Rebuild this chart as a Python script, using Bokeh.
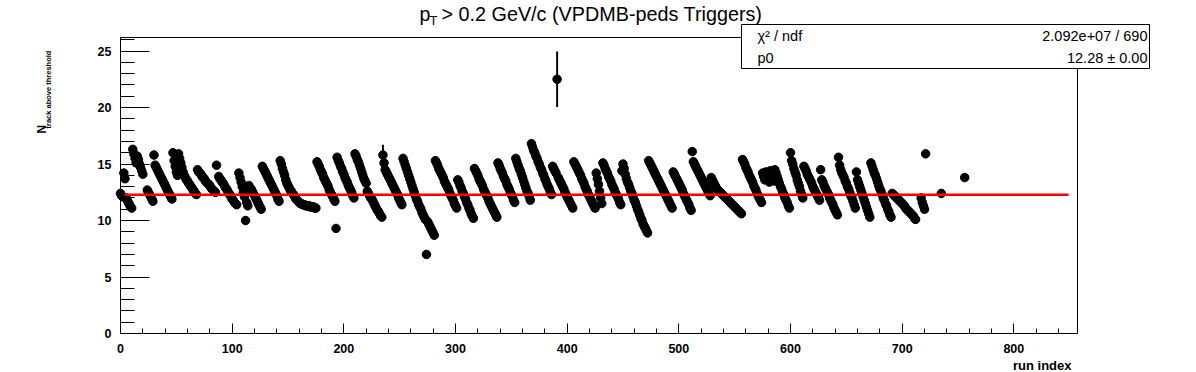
import math
from bokeh.plotting import figure
from bokeh.models import Range1d, FixedTicker, Label, BoxAnnotation, ColumnDataSource
from bokeh.embed import file_html
from bokeh.resources import INLINE

# ---------------- data ----------------
n_track_0 = [12.4, 12.2, 12.1, 14.2, 13.7, 12.0, 11.8, 11.6, 11.4, 11.2, 11.1,
             16.3, 15.9, 15.5, 15.1, 15.7, 15.4, 15.0, 14.7, 14.4, 14.1]
n_track_24 = [12.7, 12.5, 12.3, 12.1, 11.9, 11.7, 15.8,
              14.9, 14.7, 14.5, 14.3, 14.1, 13.9, 13.7, 13.5, 13.3, 13.1, 12.9, 12.7, 12.5, 12.3, 12.1, 11.9,
              16.0, 15.3, 14.8, 14.3, 14.0, 15.9, 15.5, 15.1, 14.7, 14.3, 14.0,
              13.8, 13.6, 13.5, 13.3, 13.2, 13.0, 12.9, 12.7, 12.6, 12.4, 12.3,
              14.5, 14.3, 14.2, 14.1, 13.9, 13.8, 13.7, 13.5, 13.4, 13.3, 13.2, 13.1, 12.9, 12.8, 12.7, 12.6, 12.5,
              14.9]
n_track_88 = [13.9, 13.7, 13.6, 13.4, 13.3, 13.1, 12.9, 12.8, 12.6, 12.4, 12.3, 12.1, 11.9, 11.8, 11.6, 11.5, 11.4]
n_track_106 = [14.2, 13.8, 13.4, 13.0, 12.5, 12.1, 10.0, 11.6, 11.3,
               13.1, 12.9, 12.8, 12.6, 12.4, 12.2, 12.0, 11.8, 11.6, 11.4, 11.2, 11.0,
               14.8, 14.6, 14.4, 14.2, 14.0, 13.8, 13.6, 13.4, 13.2, 13.0, 12.8, 12.6, 12.4, 12.2, 11.9, 11.7,
               15.3, 15.0, 14.6, 14.3, 14.0, 13.6, 13.3, 13.1, 12.9, 12.7, 12.6, 12.4, 12.3, 12.1, 11.9,
               11.8, 11.7, 11.6, 11.5, 11.5, 11.4, 11.4, 11.4, 11.3, 11.3, 11.3, 11.3, 11.2, 11.2, 11.2,
               11.2, 11.1, 11.1,
               15.2, 15.0, 14.8, 14.5, 14.3, 14.1, 13.8, 13.6, 13.4, 13.2, 13.0, 12.7, 12.5, 12.3, 12.1, 11.9, 11.7,
               9.3,
               15.6, 15.3, 15.1, 14.8, 14.6, 14.3]
n_track_200 = [14.1, 13.8, 13.6, 13.4, 13.1, 12.9, 12.7, 12.5, 12.2, 12.0,
               15.9, 15.7, 15.4, 15.2, 14.9, 14.6, 14.3, 14.0, 13.7, 13.5, 13.3,
               12.6, 12.4, 12.2, 12.0, 11.9, 11.7, 11.5, 11.3, 11.1, 10.9, 10.8, 10.6, 10.4, 10.3,
               15.8, 15.1,
               14.5, 14.3, 14.1, 13.9, 13.7, 13.5, 13.3, 13.1, 12.9, 12.7, 12.5, 12.3, 12.0, 11.8, 11.6, 11.4,
               15.5, 15.2, 14.9, 14.6, 14.3, 14.0, 13.7, 13.4, 13.1, 12.8, 12.5, 12.2, 11.9, 11.7, 11.4, 11.2,
               11.0, 10.7, 10.5, 10.3, 10.1, 7.0, 9.9, 9.7, 9.5, 9.3, 9.1, 8.9, 8.7,
               15.3, 15.1, 14.9, 14.6, 14.4, 14.2, 14.0, 13.8, 13.5, 13.3, 13.1, 12.9, 12.7, 12.4, 12.2, 12.0,
               11.8, 11.5]
n_track_300 = [11.3, 11.1,
               13.6, 13.4, 13.1, 12.9, 12.6, 12.4, 12.1, 11.9, 11.6, 11.4, 11.1, 10.9, 10.6, 10.4, 10.2,
               14.6, 14.4, 14.2, 14.0, 13.7, 13.5, 13.3, 13.1, 12.8, 12.6, 12.4, 12.2, 12.0, 11.7, 11.5, 11.3,
               11.1, 10.9, 10.7, 10.5, 10.3,
               15.1, 14.9, 14.6, 14.4, 14.2, 13.9, 13.7, 13.5, 13.2, 13.0, 12.8, 12.5, 12.3, 12.1, 11.8, 11.6,
               15.5, 15.2, 14.9, 14.6, 14.4, 14.1, 13.8, 13.5, 13.2, 12.9, 12.6, 12.4, 12.1, 11.8,
               16.8, 16.5, 16.2, 16.0, 15.7, 15.5, 15.2, 15.0, 14.7, 14.5, 14.2, 14.0, 13.7, 13.5, 13.2, 13.0,
               12.8, 12.5, 12.3,
               14.8, 14.6, 14.4, 14.2, 22.5, 13.8, 13.6, 13.4, 13.2, 13.0, 12.8, 12.5, 12.3]
n_track_400 = [12.1, 11.9, 11.7, 11.5, 11.3, 11.1,
               15.2, 15.0, 14.8, 14.6, 14.4, 14.2, 14.0, 13.7, 13.5, 13.3, 13.0, 12.8, 12.6, 12.3, 12.1, 11.9,
               11.7, 11.5, 11.3, 11.1,
               14.2, 13.7, 13.2, 12.6, 12.0, 11.5,
               15.1, 14.9, 14.6, 14.4, 14.2, 13.9, 13.7, 13.5, 13.2, 13.0, 12.8, 12.5, 12.3, 12.1, 11.9, 11.6, 11.4,
               14.4, 15.0, 14.6, 14.1, 13.7, 13.4,
               13.2, 12.9, 12.6, 12.4, 12.1, 11.8, 11.6, 11.3, 11.0, 10.8, 10.5, 10.2, 10.0, 9.7, 9.5, 9.3, 9.1, 8.9,
               15.3, 15.1, 14.9, 14.7, 14.5, 14.3, 14.1, 13.9, 13.7, 13.5, 13.3, 13.1, 12.9, 12.7, 12.5, 12.3,
               12.1, 11.9, 11.7, 11.5, 11.3, 11.1,
               14.3, 14.1, 13.9, 13.7, 13.5]
n_track_500 = [13.3, 13.1, 12.9, 12.7, 12.4, 12.2, 12.0, 11.8, 11.6, 11.4, 11.1, 10.9,
               16.1,
               15.2, 15.0, 14.8, 14.6, 14.4, 14.2, 14.0, 13.8, 13.6, 13.4, 13.2, 13.0, 12.8, 12.6, 12.4, 12.2,
               13.8, 13.6, 13.4, 13.2, 13.0, 12.8, 12.7, 12.6, 12.5, 12.4, 12.3, 12.2, 12.1, 12.0, 11.9, 11.8,
               11.7, 11.6, 11.5, 11.4, 11.3, 11.2, 11.1, 11.0, 10.9, 10.8, 10.7, 10.6,
               15.4, 15.2, 15.0, 14.7, 14.5, 14.3, 14.0, 13.8, 13.6, 13.4, 13.1, 12.9, 12.7, 12.4, 12.2, 12.0,
               11.8, 11.6,
               14.2, 13.9, 13.6, 14.3, 14.0, 13.7, 13.4, 14.4, 14.1, 13.8, 13.5, 14.5, 14.2, 13.9, 13.6,
               13.3, 13.0, 12.8, 12.5, 12.3, 12.0, 11.8, 11.6, 11.3, 11.1]
n_track_600 = [16.0,
               15.3, 15.0, 14.6, 14.3, 14.0, 13.6, 13.3, 13.0, 12.6, 12.3, 12.0,
               14.8, 14.6, 14.4, 14.1, 13.9, 13.7, 13.5, 13.3, 13.0, 12.8, 12.6, 12.4, 12.2, 12.0, 11.8,
               14.5,
               13.6, 13.4, 13.1, 12.9, 12.7, 12.5, 12.3, 12.0, 11.8, 11.6, 11.4, 11.1, 10.9, 10.7, 10.5,
               15.6, 14.9, 14.5, 14.2, 14.0, 13.8, 13.5, 13.3, 13.0, 12.8, 12.5, 12.2, 12.0, 11.7, 11.4, 11.1,
               14.3, 13.6, 13.3, 13.0, 12.7, 12.4, 12.1, 11.8, 11.5, 11.2, 10.9, 10.6, 10.3,
               15.1, 14.8, 14.5, 14.2, 14.0, 13.7, 13.4, 13.1, 12.8, 12.6, 12.3, 12.0, 11.8, 11.5, 11.3, 11.0,
               10.8, 10.5, 10.3,
               12.4, 12.3, 12.2, 12.1, 12.0, 11.9, 11.8, 11.7, 11.6, 11.5, 11.4, 11.3, 11.1, 11.0, 10.9, 10.8,
               10.7, 10.6, 10.5, 10.4, 10.2, 10.1]
n_track_717 = [12.0, 11.6, 11.3, 11.0, 15.9]
n_track_735 = [12.4]
n_track_756 = [13.8]

block_start = [0, 24, 88, 106, 200, 300, 400, 500, 600, 717, 735, 756]
blocks = [n_track_0, n_track_24, n_track_88, n_track_106, n_track_200, n_track_300,
          n_track_400, n_track_500, n_track_600, n_track_717, n_track_735, n_track_756]

# errors that are visible (others are negligible)
err_index = [235, 391]
err_value = [0.9, 2.45]

fit_p0 = 12.28
fit_range = [3.8, 849.0]
x_ticks = [0, 100, 200, 300, 400, 500, 600, 700, 800]
y_ticks = [0, 5, 10, 15, 20, 25]
x_max = 857.0
y_max = 26.2

# ---------------- build ----------------
run_index, n_track = [], []
for s, b in zip(block_start, blocks):
    for k, v in enumerate(b):
        run_index.append(s + k)
        n_track.append(v)

vals = dict(zip(run_index, n_track))
ex = err_index
ey0 = [vals[i] - e for i, e in zip(err_index, err_value)]
ey1 = [vals[i] + e for i, e in zip(err_index, err_value)]

FONT = "Liberation Sans"
W, H = 1196, 372
# page geometry of the data frame (pixels)
PL, PR, PT, PB = 120, 1077, 37, 333
sx = (PR - PL) / x_max
sy = (PB - PT) / y_max
xr = Range1d(-PL / sx, (W - PL) / sx)
yr = Range1d(-(H - PB) / sy, PB / sy)

p = figure(width=W, height=H, output_backend="svg", toolbar_location=None,
           title=None, x_range=xr, y_range=yr,
           min_border_left=0, min_border_right=0, min_border_top=0, min_border_bottom=0)
p.background_fill_color = "white"
p.border_fill_color = "white"
p.outline_line_color = None
p.xgrid.visible = False
p.ygrid.visible = False

# axes drawn at the data origin
xa = p.xaxis[0]
xa.fixed_location = 0
xa.bounds = (0, x_max)
xa.ticker = FixedTicker(ticks=x_ticks, minor_ticks=[v for v in range(0, 860, 20) if v % 100])
xa.major_tick_in = 10
xa.major_tick_out = 0
xa.minor_tick_in = 5
xa.minor_tick_out = 0
xa.major_label_standoff = 10
ya = p.yaxis[0]
ya.fixed_location = 0
ya.bounds = (0, y_max)
ya.ticker = FixedTicker(ticks=y_ticks, minor_ticks=[v for v in range(0, 27) if v % 5])
ya.major_tick_in = 29
ya.major_tick_out = 0
ya.minor_tick_in = 14
ya.minor_tick_out = 0
ya.major_label_standoff = 9
for ax in (xa, ya):
    ax.axis_line_color = "black"
    ax.axis_line_width = 1
    ax.major_tick_line_color = "black"
    ax.minor_tick_line_color = "black"
    ax.major_label_text_font = FONT
    ax.major_label_text_font_style = "bold"
    ax.major_label_text_font_size = "12.5px"
    ax.major_label_text_color = "black"

# frame box
p.add_layout(BoxAnnotation(left=0, right=x_max, bottom=0, top=y_max, fill_color=None,
                           line_color="black", line_alpha=1.0, line_width=1))

src = ColumnDataSource(dict(x=run_index, y=n_track))
p.segment(x0=ex, x1=ex, y0=ey0, y1=ey1, line_color="black", line_width=2)
p.scatter("x", "y", source=src, size=8.5, marker="circle", fill_color="black", line_color="black")
p.segment(x0=[fit_range[0]], x1=[fit_range[1]], y0=[fit_p0], y1=[fit_p0], line_color="#ff0000", line_width=2.5)


def lab(text, px, py, size, bold=False, align="left", baseline="middle", angle=0.0):
    p.add_layout(Label(x=px, y=H - py, x_units="screen", y_units="screen", text=text,
                       text_font=FONT, text_font_size=f"{size}px",
                       text_font_style="bold" if bold else "normal",
                       text_align=align, text_baseline=baseline, angle=angle, text_color="black"))


# stat box
p.add_layout(BoxAnnotation(left=741, right=1149, top=H - 24, bottom=H - 68,
                           left_units="screen", right_units="screen", top_units="screen",
                           bottom_units="screen", fill_color="white", fill_alpha=1.0,
                           line_color="black", line_alpha=1.0, line_width=1))
lab("\u03c7\u00b2 / ndf", 757, 35, 14.5)
lab("2.092e+07 / 690", 1147, 35, 14.5, align="right")
lab("p0", 757, 57, 14.5)
lab(f"{fit_p0:.2f} \u00b1 0.00", 1147, 57, 14.5, align="right")

# title
lab("p", 419, 13, 19.5)
lab("T", 429, 20, 13)
lab("> 0.2 GeV/c (VPDMB-peds Triggers)", 441, 13, 19.8)

# y-axis title
lab("N", 41, 133, 12, bold=True, angle=math.pi / 2)
lab("track above threshold", 48, 128, 7.5, bold=True, angle=math.pi / 2)

# x-axis title
lab("run index", 1071, 365, 13, bold=True, align="right")

open("out.html", "w").write(file_html(p, INLINE))
